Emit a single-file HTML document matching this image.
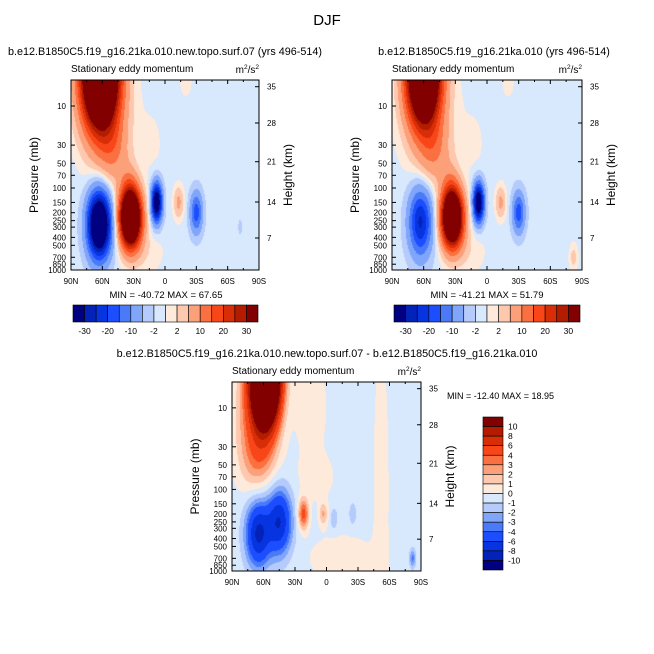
<!DOCTYPE html>
<html><head><meta charset="utf-8"><style>
body{margin:0;background:#fff;width:654px;height:654px;overflow:hidden;font-family:"Liberation Sans",sans-serif}
#root{position:relative;width:654px;height:654px}
canvas{position:absolute}
svg{position:absolute;left:0;top:0}
</style></head><body>
<div id="root">
<canvas id="c1"></canvas>
<canvas id="c2"></canvas>
<canvas id="c3"></canvas>
<svg id="s" width="654" height="654"></svg>
</div>
<script>
// ---- data ----
const palette=["#000080","#0322b8","#0634e0","#1c4eff","#4a7af8","#80a6fb","#b4cbfc","#d8e8fd","#feeadb","#fdc8ae","#fca07a","#fb7040","#f84618","#d82e08","#b41c00","#820000"];
const levelsTop=[-30,-25,-20,-15,-10,-5,-2,0,2,5,10,15,20,25,30];
const levelsDiff=[-10,-8,-6,-4,-3,-2,-1,0,1,2,3,4,6,8,10];
const topCbLabels=["-30","-20","-10","-2","2","10","20","30"];
const diffCbLabels=["10","8","6","4","3","2","1","0","-1","-2","-3","-4","-6","-8","-10"];
const latTicks=[90,60,30,0,-30,-60,-90];
const latLabels=["90N","60N","30N","0","30S","60S","90S"];
const presTicks=[10,30,50,70,100,150,200,250,300,400,500,700,850,1000];
const heightTicks=[35,28,21,14,7];
// blobs: [lat, pressure(mb), amplitude, sigmaLat, sigmaLog10p]
const blobsLeft=[[62,4,85,12,0.45],[50,35,8,10,0.28],[55,15,3,20,0.5],[63,280,-52,7.5,0.27],[33,230,72,7,0.24],[35,90,4,6,0.2],[8,150,-40,3.5,0.16],[-13,150,7,3.5,0.14],[-30,200,-17,4,0.17],[-72,300,-1.5,2,0.1],[18,600,2.4,12,0.2],[-20,5,1.5,6,0.2],[12,30,1.3,8,0.3]];
const bgLeft=-1;
const blobsRight=[[60,4,72,11,0.43],[50,35,8,10,0.28],[55,15,3,20,0.5],[63,260,-25,7.5,0.28],[33,230,66,7,0.24],[35,90,4,6,0.2],[8,150,-40,3.5,0.16],[-13,150,7,3.5,0.14],[-30,200,-17,4,0.17],[-82,700,4,3,0.12],[18,600,2.4,12,0.2],[-20,5,1.5,6,0.2],[12,30,1.3,8,0.3]];
const bgRight=-1;
const blobsDiff=[[58,4,36,9,0.4],[66,40,3,12,0.3],[70,10,3,12,0.4],[65,350,-8,8,0.27],[45,250,-7.5,8,0.27],[22,200,5,3.5,0.13],[3,200,2.5,3,0.1],[-7,230,-1.5,2.5,0.1],[-25,200,-1.4,2.5,0.1],[15,10,1.2,10,0.4],[10,70,1.0,12,0.2],[-52,100,1.1,5,1.2],[-15,700,1.1,22,0.2],[-82,700,-3,2,0.08]];
const bgDiff=-0.4;

// ---- geometry ----
const PTOP=4.82, LTOP=Math.log10(PTOP);
function xs(lat,L,W){return L+(90-lat)/180*W;}
function ys(p,T,H){return T+(Math.log10(p)-LTOP)/(3-LTOP)*H;}
function field(lat,lp,blobs,bg){let v=bg;for(const b of blobs){const dl=(lat-b[0])/b[3],dp=(lp-Math.log10(b[1]))/b[4];v+=b[2]*Math.exp(-0.5*(dl*dl+dp*dp));}return v;}
function colorIdx(v,lev){let i=0;while(i<lev.length&&v>=lev[i])i++;return i;}
function drawField(id,L,T,W,H,blobs,bg,lev){
  const c=document.getElementById(id);c.width=W;c.height=H;c.style.left=L+'px';c.style.top=T+'px';
  const g=c.getContext('2d');
  for(let y=0;y<H;y++){const lp=LTOP+(y+0.5)/H*(3-LTOP);
    for(let x=0;x<W;x++){const lat=90-(x+0.5)/W*180;
      g.fillStyle=palette[colorIdx(field(lat,lp,blobs,bg),lev)];g.fillRect(x,y,1,1);}}
}
const S=document.getElementById('s');const NS='http://www.w3.org/2000/svg';
function el(tag,attrs,txt){const e=document.createElementNS(NS,tag);for(const k in attrs)e.setAttribute(k,attrs[k]);if(txt!==undefined)e.textContent=txt;S.appendChild(e);return e;}
function text(x,y,s,size,anchor,name){const t=el('text',{x:x,y:y,'font-size':size,'text-anchor':anchor||'start',fill:'#000','font-family':'Liberation Sans, sans-serif','xml:space':'preserve'},s);

return t;}
function axes(L,T,W,H,title,titleX,pfx){
  const r=el('rect',{x:L,y:T,width:W,height:H,fill:'none',stroke:'#000','stroke-width':1});
  
  
  text(titleX,T-25,title,10.8,'middle',pfx+'-title');
  text(L,T-8,'Stationary eddy momentum',10,'start',pfx+'-subtitle');
  const u=text(L+W,T-7,'',10,'end',pfx+'-units');
  u.innerHTML='m<tspan font-size="6.5" dy="-4">2</tspan><tspan dy="4">/s</tspan><tspan font-size="6.5" dy="-4">2</tspan>';
  for(let lat=90;lat>=-90;lat-=15){const x=xs(lat,L,W),big=lat%30===0;
    el('line',{x1:x,y1:T+H,x2:x,y2:T+H-(big?4:2),stroke:'#000'});el('line',{x1:x,y1:T,x2:x,y2:T+(big?4:2),stroke:'#000'});}
  latTicks.forEach((lat,i)=>text(xs(lat,L,W),T+H+14,latLabels[i],8,'middle',pfx+'-x-tick-label'));
  presTicks.forEach(p=>{const y=ys(p,T,H);el('line',{x1:L,y1:y,x2:L+4,y2:y,stroke:'#000'});text(L-5,y+3,String(p),8,'end',pfx+'-y-tick-label');});
  const hy=[6.7,43,81.7,122,158];
  heightTicks.forEach((h,i)=>{const y=T+hy[i]*H/190;el('line',{x1:L+W,y1:y,x2:L+W-4,y2:y,stroke:'#000'});text(L+W+8,y+3,String(h),8,'start',pfx+'-height-tick-label');});
  const a=text(0,0,'Pressure (mb)',12,'middle',pfx+'-y-axis-title');a.setAttribute('transform',`translate(${L-33},${T+H/2}) rotate(-90)`);
  const b=text(0,0,'Height (km)',12,'middle',pfx+'-height-axis-title');b.setAttribute('transform',`translate(${L+W+33},${T+H/2}) rotate(-90)`);
}
function hbar(L,T,W,H,pfx){const bw=W/16;
  palette.forEach((c,i)=>{const r=el('rect',{x:L+i*bw,y:T,width:bw,height:H,fill:c,stroke:'#000','stroke-width':0.6});
  
  });
  topCbLabels.forEach((s,i)=>text(L+(2*i+1)*bw,T+H+12,s,8.5,'middle',pfx+'-colorbar-label'));}
function vbar(L,T,W,H){const bh=H/16;
  palette.slice().reverse().forEach((c,i)=>{const r=el('rect',{x:L,y:T+i*bh,width:W,height:bh,fill:c,stroke:'#000','stroke-width':0.6});
  
  });
  diffCbLabels.forEach((s,i)=>text(L+W+5,T+(i+1)*bh+3,s,8.5,'start','diff-colorbar-label'));}

drawField('c1',71,80,188,190,blobsLeft,bgLeft,levelsTop);
drawField('c2',392,80,190,190,blobsRight,bgRight,levelsTop);
drawField('c3',232,382,189,189,blobsDiff,bgDiff,levelsDiff);
text(327,25,'DJF',15,'middle','figure-title');
axes(71,80,188,190,'b.e12.B1850C5.f19_g16.21ka.010.new.topo.surf.07 (yrs 496-514)',165,'left');
axes(392,80,190,190,'b.e12.B1850C5.f19_g16.21ka.010 (yrs 496-514)',494,'right');
axes(232,382,189,189,'b.e12.B1850C5.f19_g16.21ka.010.new.topo.surf.07 - b.e12.B1850C5.f19_g16.21ka.010',327,'diff');
text(166,298,'MIN = -40.72  MAX =  67.65',9.5,'middle','left-min-max');
text(487,298,'MIN = -41.21  MAX =  51.79',9.5,'middle','right-min-max');
text(447,399,'MIN = -12.40  MAX =  18.95',9,'start','diff-min-max');
hbar(73,305,185,17,'left');
hbar(394,305,186,17,'right');
vbar(483,417,20,153);
</script>
</body></html>
